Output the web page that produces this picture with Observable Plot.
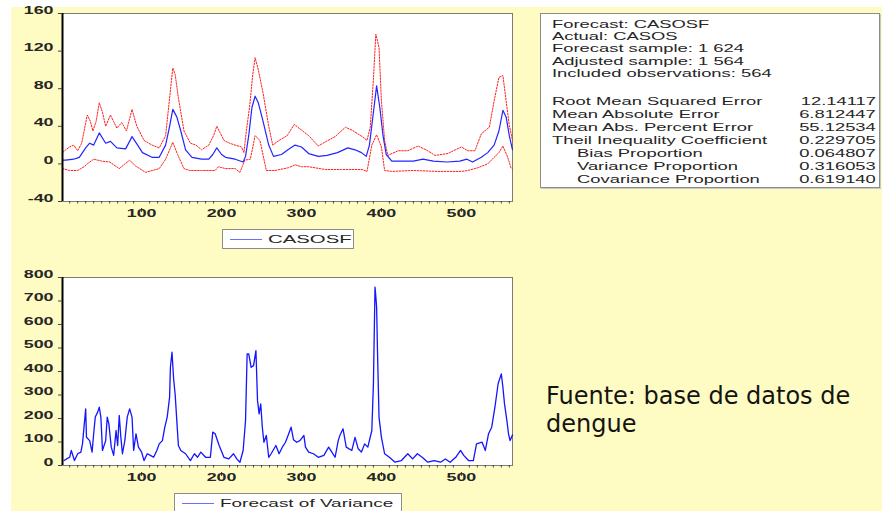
<!DOCTYPE html>
<html>
<head>
<meta charset="utf-8">
<script src="https://cdn.jsdelivr.net/npm/d3@7"></script>
<script src="https://cdn.jsdelivr.net/npm/@observablehq/plot@0.6"></script>
<style>
html,body{margin:0;padding:0;background:#fff;}
#page{position:relative;width:882px;height:511px;overflow:hidden;background:#fff;}
#bg{position:absolute;left:11px;top:7px;right:0;bottom:0;background:#FEFCC2;}
#p1,#p2{position:absolute;left:0;}
#p1{top:0;}
#p2{top:262px;}
.box{position:absolute;background:#fff;border:1px solid #8c8c8c;box-sizing:border-box;}
.lt{position:absolute;white-space:nowrap;font-family:"Liberation Sans",Arial,sans-serif;font-size:10.5px;color:#262626;line-height:12px;transform-origin:0 50%;transform:scaleX(1.75);}
.rt{transform-origin:100% 50%;}
.swatch{position:absolute;height:0;border-top:1.3px solid #6f6fff;}
#note{position:absolute;left:546px;top:383px;font-family:"DejaVu Sans",Verdana,sans-serif;font-size:24px;line-height:27.5px;color:#141414;white-space:nowrap;}
</style>
</head>
<body>
<div id="page">
  <div id="bg"></div>
  <div id="p1"></div>
  <div id="p2"></div>
  <div id="stats" class="box" style="left:540px;top:13px;width:340px;height:175px;box-shadow:1px 1px 0 #c8c8c8;"></div>
  <div id="leg1" class="box" style="left:222px;top:229px;width:132px;height:20px;"></div>
  <div id="leg2" class="box" style="left:174px;top:493px;width:228px;height:22px;"></div>
  <div id="note"></div>
</div>
<script>
// ---------------- DATA ----------------
const xDomain = [1, 564];

// Forecast CASOSF (blue line, top panel)
const fcT = [1,5,15,22,30,35,40,47,55,61,69,80,88,95,101,113,122,130,135,139,144,149,155,163,175,184,189,194,200,205,217,227,230,234,238,242,246,252,259,265,275,283,292,300,309,321,332,345,358,367,375,381,385,390,394,398,402,406,413,425,440,452,465,482,498,507,514,525,533,541,547,552,556,560,564];
const fcV = [4,4,5,7,17,22,20,33,22,24,17,16,29,20,12,7,7,20,40,58,50,35,15,7,5,5,10,17,10,7,5,2,8,30,60,72,65,45,20,8,10,15,20,18,11,8,9,12,17,15,12,8,20,55,83,60,30,10,3,3,3,5,3,2,3,5,2,7,12,20,35,57,50,30,15];

// Upper band (red dotted)
const upT = [1,5,10,15,20,25,32,36,39,43,47,51,55,61,65,69,75,81,88,94,103,113,122,130,135,139,142,146,153,161,168,175,184,190,194,203,210,217,225,228,231,235,239,242,246,252,259,264,272,282,291,300,309,321,329,342,355,363,376,382,386,390,393,397,400,404,408,421,433,446,458,467,483,500,508,517,525,535,541,547,552,556,560,564];
const upV = [12,15,18,20,14,22,52,45,35,45,65,55,40,52,45,38,44,35,58,40,25,20,17,30,70,102,95,70,35,22,20,15,20,30,40,25,22,20,18,12,35,60,95,113,100,75,40,20,25,30,42,36,30,19,23,29,39,36,29,25,39,90,138,124,67,25,9,14,14,19,14,9,11,18,14,14,32,39,67,92,94,67,41,25];

// Lower band (red dotted)
const loT = [1,10,20,28,32,40,50,60,72,85,92,105,122,130,135,139,145,153,160,175,192,196,205,217,223,229,236,242,248,256,267,284,292,300,309,330,350,376,382,388,394,400,404,413,440,470,500,508,521,533,541,547,552,558,562,564];
const loV = [-5,-7,-7,-3,0,5,3,2,-5,4,-2,-9,-5,5,15,23,10,-5,-7,-7,-7,-3,-5,-5,-9,4,5,30,25,-7,-7,-4,-1,-3,-3,-6,-6,-6,-8,20,31,18,-7,-8,-7,-8,-8,-7,-4,0,7,12,19,7,-4,-5];

// Forecast of Variance (blue line, bottom panel)
const varT = [3,6,10,12,16,20,24,26,30,31,35,38,40,42,45,47,49,51,55,57,59,62,65,68,70,72,74,76,79,82,85,88,90,93,96,100,103,107,111,115,119,122,126,129,132,135,136,138,140,142,144,146,149,155,161,166,170,174,180,186,189,192,197,203,209,215,219,223,227,230,232,234,237,240,243,245,247,249,251,253,256,259,262,268,272,276,280,284,287,290,294,298,303,305,309,315,321,328,334,338,342,346,348,352,356,363,367,371,375,379,383,388,390,392,393,394,395,397,400,404,410,417,425,433,439,445,451,458,466,474,480,486,493,499,503,509,515,519,526,530,534,538,542,546,550,552,554,557,559,561,564];
const varV = [21,28,35,64,21,50,57,92,241,120,106,57,135,206,227,248,206,64,106,206,177,78,43,149,85,213,120,50,106,206,241,206,64,135,78,57,21,50,43,35,64,92,106,163,206,291,418,482,370,300,191,85,64,50,21,50,35,57,35,35,142,135,85,35,28,50,28,14,64,191,475,475,418,425,489,276,220,262,163,99,128,35,50,85,50,78,99,135,163,110,99,106,128,78,57,50,35,43,78,57,35,106,128,156,78,64,120,71,57,92,78,149,348,759,720,674,500,206,120,50,35,14,21,50,28,50,35,14,21,14,28,14,35,64,43,21,21,92,99,64,135,163,248,348,390,333,262,191,135,106,130];

// Axis ticks and labels
const topYTicks = [-40, 0, 40, 80, 120, 160];
const topYLabels = ["-40", "0", "40", "80", "120", "160"];
const botYTicks = [0, 100, 200, 300, 400, 500, 600, 700, 800];
const botYLabels = ["0", "100", "200", "300", "400", "500", "600", "700", "800"];
const xTicks = [100, 200, 300, 400, 500];
const xLabels = ["100", "200", "300", "400", "500"];
const xMinor = [10,20,30,40,50,60,70,80,90,110,120,130,140,150,160,170,180,190,210,220,230,240,250,260,270,280,290,310,320,330,340,350,360,370,380,390,410,420,430,440,450,460,470,480,490,510,520,530,540,550,560];

// Text
const legend1 = "CASOSF";
const legend2 = "Forecast of Variance";
const statsHead = ["Forecast: CASOSF", "Actual: CASOS", "Forecast sample: 1 624", "Adjusted sample: 1 564", "Included observations: 564"];
const statsNames = ["Root Mean Squared Error", "Mean Absolute Error", "Mean Abs. Percent Error", "Theil Inequality Coefficient", "Bias Proportion", "Variance Proportion", "Covariance Proportion"];
const statsIndent = [false, false, false, false, true, true, true];
const statsValues = ["12.14117", "6.812447", "55.12534", "0.229705", "0.064807", "0.316053", "0.619140"];
const noteLines = ["Fuente: base de datos de", "dengue"];

// ---------------- BUILD ----------------
const zip = (T, V) => T.map((t, i) => ({t, v: V[i]}));
const fcData = zip(fcT, fcV), upData = zip(upT, upV), loData = zip(loT, loV), varData = zip(varT, varV);

const font = "'Liberation Sans', Arial, sans-serif";
const baseStyle = {background: "transparent", fontFamily: font, fontSize: "10.5px", color: "#222", overflow: "visible"};

function stretch(svg, s) {
  svg.querySelectorAll('g[aria-label$="tick label"] text').forEach(t => {
    let tr = t.getAttribute("transform") || "";
    if (t.hasAttribute("x") || t.hasAttribute("y")) {
      const x = +t.getAttribute("x") || 0, y = +t.getAttribute("y") || 0;
      t.removeAttribute("x"); t.removeAttribute("y");
      tr += ` translate(${x},${y})`;
    }
    t.setAttribute("transform", tr + ` scale(${s},1)`);
  });
}

function xAxes() {
  return [
    Plot.axisX(xMinor, {tickSize: 2.5, tickFormat: () => "", stroke: "#444", label: null}),
    Plot.axisX(xTicks, {tickSize: 4, tickPadding: 4.5, dy: 7, tickFormat: (d, i) => xLabels[i], fontWeight: "bold", fill: "#262626", stroke: "#333", label: null})
  ];
}

const chartTop = Plot.plot({
  width: 530, height: 223,
  marginLeft: 62, marginRight: 18, marginTop: 13, marginBottom: 22,
  style: baseStyle,
  x: {domain: xDomain, label: null},
  y: {domain: [-40, 160], label: null},
  marks: [
    Plot.frame({fill: "white", stroke: "#7a7a7a"}),
    Plot.line(upData, {x: "t", y: "v", stroke: "#ff2020", strokeWidth: 1, strokeDasharray: "1.6,1.4"}),
    Plot.line(loData, {x: "t", y: "v", stroke: "#ff2020", strokeWidth: 1, strokeDasharray: "1.6,1.4"}),
    Plot.line(fcData, {x: "t", y: "v", stroke: "#2424ff", strokeWidth: 1.2}),
    Plot.ruleX([xDomain[0]], {stroke: "#000", strokeWidth: 2}),
    Plot.axisY(topYTicks, {tickSize: 4, tickPadding: 5, tickFormat: (d, i) => topYLabels[i], fontWeight: "bold", fill: "#262626", stroke: "#444", label: null}),
    ...xAxes()
  ]
});
stretch(chartTop, 1.7);
document.getElementById("p1").appendChild(chartTop);

const chartBot = Plot.plot({
  width: 530, height: 225,
  marginLeft: 62, marginRight: 18, marginTop: 15, marginBottom: 22,
  style: baseStyle,
  x: {domain: xDomain, label: null},
  y: {domain: [0, 800], label: null},
  marks: [
    Plot.frame({fill: "white", stroke: "#7a7a7a"}),
    Plot.line(varData, {x: "t", y: "v", stroke: "#1414ff", strokeWidth: 1.3}),
    Plot.ruleX([xDomain[0]], {stroke: "#000", strokeWidth: 2}),
    Plot.axisY(botYTicks, {tickSize: 4, tickPadding: 5, tickFormat: (d, i) => botYLabels[i], fontWeight: "bold", fill: "#262626", stroke: "#444", label: null}),
    ...xAxes()
  ]
});
stretch(chartBot, 1.7);
document.getElementById("p2").appendChild(chartBot);

// Legends
function legend(id, label, sx) {
  const el = document.getElementById(id);
  const sw = document.createElement("div");
  sw.className = "swatch";
  sw.style.left = "7px"; sw.style.width = "32px"; sw.style.top = "9px";
  el.appendChild(sw);
  const tx = document.createElement("div");
  tx.className = "lt";
  tx.style.left = "45px"; tx.style.top = "3px";
  tx.style.fontSize = "11px";
  tx.style.transform = `scaleX(${sx})`;
  tx.textContent = label;
  el.appendChild(tx);
}
legend("leg1", legend1, 1.85);
legend("leg2", legend2, 1.72);

// Stats box
const stats = document.getElementById("stats");
function addLine(text, left, centerY, right) {
  const d = document.createElement("div");
  d.className = "lt" + (right ? " rt" : "");
  if (right) d.style.right = "3px"; else d.style.left = left + "px";
  d.style.top = (centerY - 13 - 6) + "px";
  d.textContent = text;
  stats.appendChild(d);
}
statsHead.forEach((s, i) => addLine(s, 11, 22.5 + 12.4 * i));
statsNames.forEach((s, i) => {
  addLine(s, statsIndent[i] ? 36 : 11, 100 + 13 * i);
  addLine(statsValues[i], 0, 100 + 13 * i, true);
});

// Note text
const note = document.getElementById("note");
noteLines.forEach(s => { const d = document.createElement("div"); d.textContent = s; note.appendChild(d); });
</script>
</body>
</html>
